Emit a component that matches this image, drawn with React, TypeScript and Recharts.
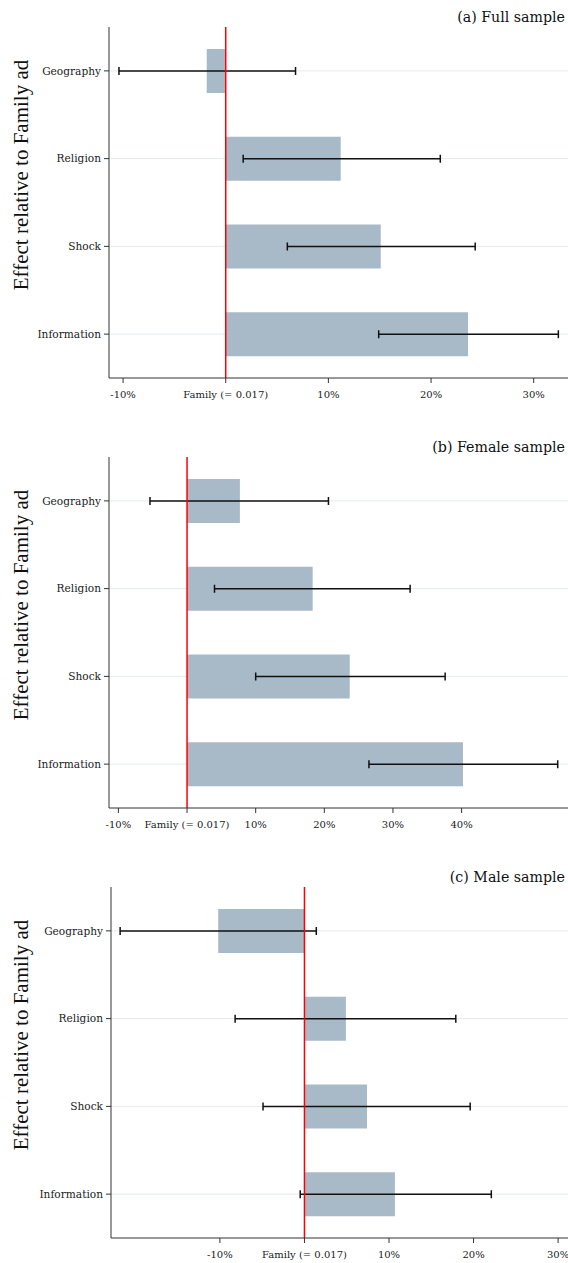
import { BarChart, Bar, XAxis, YAxis, CartesianGrid, ReferenceLine, ErrorBar } from 'recharts';

const categories = ['Geography', 'Religion', 'Shock', 'Information'];

// effects in % relative to the Family ad, with 95% CI bounds
const fullEffect = [-1.85, 11.2, 15.1, 23.6];
const fullLow = [-10.4, 1.7, 6.0, 14.9];
const fullHigh = [6.8, 20.9, 24.3, 32.4];

const femaleEffect = [7.7, 18.3, 23.7, 40.2];
const femaleLow = [-5.4, 4.0, 10.0, 26.5];
const femaleHigh = [20.6, 32.5, 37.6, 54.0];

const maleEffect = [-10.2, 4.9, 7.4, 10.7];
const maleLow = [-21.8, -8.2, -4.9, -0.5];
const maleHigh = [1.4, 17.9, 19.6, 22.1];

const fullTicks = [-10, 0, 10, 20, 30];
const femaleTicks = [-10, 0, 10, 20, 30, 40];
const maleTicks = [-10, 0, 10, 20, 30];

const familyLabel = 'Family (= 0.017)';
const yLabel = 'Effect relative to Family ad';

const serif = '"DejaVu Serif", serif';
const axisColor = '#333';

interface PanelProps {
  title: string;
  effect: number[];
  low: number[];
  high: number[];
  ticks: number[];
  domain: [number, number];
  top: number;
  height: number;
  yWidth: number;
}

function Panel({ title, effect, low, high, ticks, domain, top, height, yWidth }: PanelProps) {
  const data = categories.map((name, i) => ({
    name,
    effect: effect[i],
    err: [effect[i] - low[i], high[i] - effect[i]],
  }));
  const plotTop = 27;
  const plotHeight = 351;

  return (
    <div style={{ position: 'absolute', left: 0, top, width: 568, height }}>
      <BarChart
        width={568}
        height={height}
        data={data}
        layout="vertical"
        margin={{ top: plotTop, right: 0, bottom: 0, left: 0 }}
      >
        <CartesianGrid horizontal={true} vertical={false} syncWithTicks stroke="#e3ebee" />
        <XAxis
          type="number"
          domain={domain}
          allowDataOverflow
          ticks={ticks}
          interval={0}
          height={height - plotTop - plotHeight}
          stroke={axisColor}
          tickSize={5}
          tickMargin={8}
          tick={{ fill: '#222', fontSize: 10, fontFamily: serif }}
          tickFormatter={(v) => (v === 0 ? familyLabel : `${v}%`)}
        />
        <YAxis
          type="category"
          dataKey="name"
          width={yWidth}
          stroke={axisColor}
          tickSize={5}
          tickMargin={3}
          tick={{ fill: '#222', fontSize: 10.6, fontFamily: serif }}
        />
        <Bar dataKey="effect" fill="#a8b9c7" barSize={44} isAnimationActive={false}>
          <ErrorBar dataKey="err" direction="x" width={4} stroke="#111" strokeWidth={1.5} />
        </Bar>
        <ReferenceLine x={0} stroke="#ff0000" strokeWidth={1.5} />
      </BarChart>
      <div
        style={{
          position: 'absolute',
          right: 3,
          top: 7,
          fontFamily: serif,
          fontSize: 14.2,
          lineHeight: '20px',
          color: '#111',
          whiteSpace: 'nowrap',
        }}
      >
        {title}
      </div>
      <div
        style={{
          position: 'absolute',
          left: 21,
          top: 175,
          transform: 'translate(-50%, -50%) rotate(-90deg)',
          fontFamily: '"Liberation Serif", serif',
          fontSize: 21,
          lineHeight: '22px',
          color: '#111',
          whiteSpace: 'nowrap',
        }}
      >
        {yLabel}
      </div>
    </div>
  );
}

export default function App() {
  return (
    <div style={{ position: 'absolute', left: 0, top: 0, width: 568, height: 1263, background: '#fff', overflow: 'hidden' }}>
      <Panel
        title="(a) Full sample"
        effect={fullEffect}
        low={fullLow}
        high={fullHigh}
        ticks={fullTicks}
        domain={[-11.37, 33.34]}
        top={0}
        height={430}
        yWidth={109}
      />
      <Panel
        title="(b) Female sample"
        effect={femaleEffect}
        low={femaleLow}
        high={femaleHigh}
        ticks={femaleTicks}
        domain={[-11.37, 55.5]}
        top={430}
        height={430}
        yWidth={109}
      />
      <Panel
        title="(c) Male sample"
        effect={maleEffect}
        low={maleLow}
        high={maleHigh}
        ticks={maleTicks}
        domain={[-22.88, 31.17]}
        top={860}
        height={403}
        yWidth={111}
      />
    </div>
  );
}
